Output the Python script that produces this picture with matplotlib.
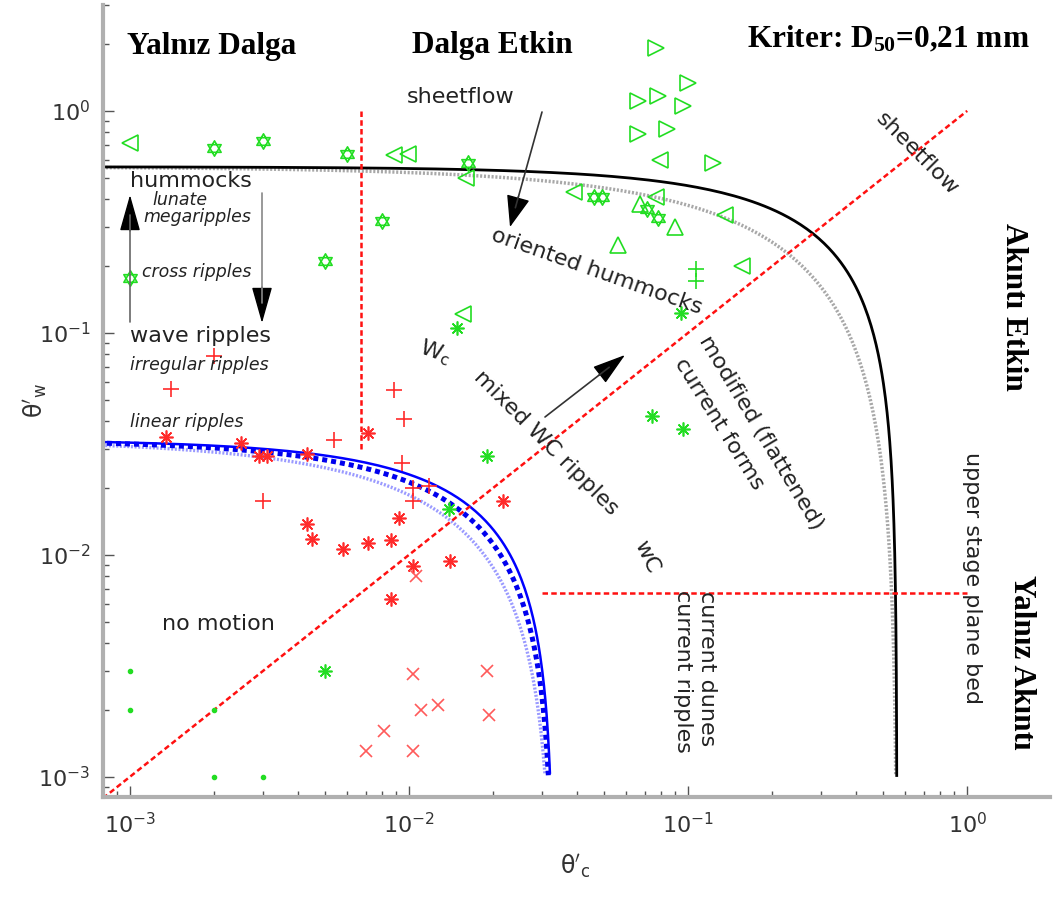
import numpy as np
import matplotlib
matplotlib.use('Agg')
import matplotlib.pyplot as plt
from matplotlib.path import Path

W, H = 1059, 900

# threshold values (Shields parameters)
theta_sheet = 0.56
theta_motion = 0.033
theta_split = 0.0067
theta_split_lo = 0.030

# green symbols
lt_c = [0.001, 0.0088, 0.0099, 0.016, 0.039, 0.079, 0.077, 0.136, 0.156, 0.0156]
lt_w = [0.72, 0.63, 0.64, 0.50, 0.43, 0.60, 0.41, 0.34, 0.20, 0.122]
rt_c = [0.077, 0.10, 0.066, 0.078, 0.096, 0.066, 0.084, 0.123]
rt_w = [1.92, 1.34, 1.11, 1.17, 1.05, 0.79, 0.83, 0.58]
up_c = [0.067, 0.09, 0.056]
up_w = [0.38, 0.30, 0.25]
hex_c = [0.002, 0.003, 0.006, 0.008, 0.005, 0.001, 0.0163, 0.046, 0.049, 0.071, 0.078]
hex_w = [0.68, 0.73, 0.64, 0.32, 0.21, 0.177, 0.58, 0.41, 0.41, 0.36, 0.33]
gast_c = [0.0149, 0.094, 0.074, 0.096, 0.019, 0.0139, 0.005]
gast_w = [0.105, 0.123, 0.042, 0.037, 0.028, 0.016, 0.003]
gplus_c = [0.107, 0.107]
gplus_w = [0.194, 0.171]
gdot_c = [0.001, 0.001, 0.002, 0.002, 0.003]
gdot_w = [0.003, 0.002, 0.002, 0.001, 0.001]

# red symbols
rplus_c = [0.002, 0.0014, 0.003, 0.0054, 0.0088, 0.0096, 0.0094, 0.0103, 0.0118, 0.0103]
rplus_w = [0.079, 0.056, 0.0175, 0.033, 0.055, 0.041, 0.026, 0.020, 0.0205, 0.0175]
rast_c = [0.00135, 0.0025, 0.0029, 0.0031, 0.0043, 0.0071, 0.0043, 0.0045, 0.0058,
          0.0071, 0.0086, 0.0092, 0.0103, 0.0217, 0.014, 0.0086]
rast_w = [0.034, 0.032, 0.028, 0.028, 0.0285, 0.0355, 0.0138, 0.0118, 0.0106,
          0.0113, 0.0116, 0.0147, 0.0089, 0.0175, 0.0094, 0.0063]
rx_c = [0.0106, 0.0103, 0.011, 0.0127, 0.0081, 0.007, 0.0103, 0.019, 0.0194]
rx_w = [0.008, 0.0029, 0.002, 0.0021, 0.0016, 0.0013, 0.0013, 0.003, 0.0019]

GREEN = '#22dd22'
RED = '#ff2a2a'

plt.rcParams['mathtext.rm'] = 'Liberation Serif:bold'
plt.rcParams['mathtext.it'] = 'Liberation Serif:bold'
plt.rcParams['mathtext.bf'] = 'Liberation Serif:bold'


def fp(x, y):
    return (x / W, 1 - y / H)


def threshold(tcr, n):
    # (tc^n + tw^n)^(1/n) = tcr, stops at tw = 1e-3
    s = np.concatenate([np.geomspace(1e-9, 0.5, 400), 1 - np.geomspace(0.5, 1e-9, 400)])
    tc = tcr * s ** (1 / n)
    tw = tcr * (1 - s) ** (1 / n)
    keep = tw >= 1e-3
    return tc[keep], tw[keep]


fig = plt.figure(figsize=(W / 100, H / 100), dpi=100)
ax = fig.add_axes([103 / W, 103 / H, 947 / W, 792 / H])
ax.set_xscale('log')
ax.set_yscale('log')
ax.set_xlim(8.0e-4, 1.98)
ax.set_ylim(8.1e-4, 3.0)

# threshold curves
c, w = threshold(theta_sheet, 0.77)
ax.plot(c, w, color='#a8a8a8', lw=2.5, ls=(0, (0.6, 0.5)))
c, w = threshold(theta_sheet, 1.0)
ax.plot(c, w, color='black', lw=2.0)
c, w = threshold(theta_motion, 0.82)
ax.plot(c, w, color='#9a9aff', lw=2.4, ls=(0, (0.6, 0.5)))
c, w = threshold(theta_motion, 0.92)
ax.plot(c, w, color='#0000ee', lw=3.6, ls=(0, (1, 0.8)))
c, w = threshold(theta_motion, 1.0)
ax.plot(c, w, color='#0000ff', lw=1.8)

# regime boundaries
red_ls = (0, (2.2, 1.3))
ax.plot([8.0e-4, 1.0], [8.0e-4, 1.0], color='#ff1010', lw=1.8, ls=red_ls)
ax.plot([theta_split, theta_split], [theta_split_lo, 1.0], color='#ff1010', lw=1.8, ls=red_ls)
ax.plot([theta_split_lo, 1.0], [theta_split, theta_split], color='#ff1010', lw=1.8, ls=red_ls)

# hexagram marker
a1 = np.deg2rad([90, 210, 330, 90])
a2 = np.deg2rad([270, 30, 150, 270])
verts = list(zip(np.cos(a1), np.sin(a1))) + list(zip(np.cos(a2), np.sin(a2)))
codes = [Path.MOVETO, Path.LINETO, Path.LINETO, Path.CLOSEPOLY] * 2
hexagram = Path(verts, codes)

kw = dict(ls='none', mfc='none', mew=1.2)
ax.plot(lt_c, lt_w, marker='<', ms=11, mec=GREEN, **kw)
ax.plot(rt_c, rt_w, marker='>', ms=11, mec=GREEN, **kw)
ax.plot(up_c, up_w, marker='^', ms=11, mec=GREEN, **kw)
ax.plot(hex_c, hex_w, marker=hexagram, ms=11, mec=GREEN, **kw)
ax.plot(gast_c, gast_w, marker=(8, 2, 0), ms=10, mec=GREEN, **kw)
ax.plot(gplus_c, gplus_w, marker='+', ms=12, mec=GREEN, **kw)
ax.plot(gdot_c, gdot_w, marker='o', ms=3, ls='none', color=GREEN)
ax.plot(rplus_c, rplus_w, marker='+', ms=12, mec=RED, **kw)
ax.plot(rast_c, rast_w, marker=(8, 2, 0), ms=10, mec=RED, **kw)
ax.plot(rx_c, rx_w, marker='x', ms=9, mec='#ff5a5a', **kw)

# axes look
for s in ['top', 'right']:
    ax.spines[s].set_visible(False)
for s in ['left', 'bottom']:
    ax.spines[s].set_color('#b0b0b0')
    ax.spines[s].set_linewidth(3)
ax.tick_params(which='both', direction='in', color='#555555', labelcolor='#333333',
               labelsize=16)
ax.tick_params(which='major', length=8, width=1)
ax.tick_params(which='minor', length=4, width=1)
ax.tick_params(axis='x', pad=11)
ax.tick_params(axis='y', pad=9)

ax.set_xlabel(r"$\mathrm{\theta}'_{\mathrm{c}}$", fontsize=17, color='#333333')
ax.xaxis.set_label_coords(0.498, -0.07)
ax.set_ylabel(r"$\mathrm{\theta}'_{\mathrm{w}}$", fontsize=17, color='#333333')
ax.yaxis.set_label_coords(-0.057, 0.5)

# Turkish headings
serif = dict(family='Liberation Serif', weight='bold', fontsize=22.5, color='black')
fig.text(*fp(127, 54), 'Yalnız Dalga', ha='left', va='baseline', **serif)
fig.text(*fp(412, 53), 'Dalga Etkin', ha='left', va='baseline', **serif)
fig.text(*fp(747, 47), r'Kriter: D$_{50}$=0,21 mm', ha='left', va='baseline',
         math_fontfamily='custom', **serif)
fig.text(*fp(1013, 307), 'Akıntı Etkin', ha='center', va='center', rotation=-90,
         rotation_mode='anchor', **serif)
fig.text(*fp(1022, 662), 'Yalnız Akıntı', ha='center', va='center', rotation=-90,
         rotation_mode='anchor', **serif)

# bedform labels
TXT = '#222222'
big = dict(fontsize=16, color=TXT)
small = dict(fontsize=12.5, color=TXT, style='italic')
for x, y, s in [(407, 103, 'sheetflow'), (130, 187, 'hummocks'),
                (130, 342, 'wave ripples'), (162, 630, 'no motion')]:
    fig.text(*fp(x, y), s, ha='left', va='baseline', **big)
for x, y, s in [(152, 205, 'lunate'), (143, 222, 'megaripples'),
                (142, 277, 'cross ripples'), (130, 370, 'irregular ripples'),
                (130, 427, 'linear ripples')]:
    fig.text(*fp(x, y), s, ha='left', va='baseline', **small)

for x, y, s, r in [(597, 271, 'oriented hummocks', -19.5),
                   (435, 352, r'W$_{\mathregular{c}}$', -20),
                   (546, 443, 'mixed WC ripples', -45),
                   (647, 557, 'wC', -65),
                   (761, 433, 'modified (flattened)', -59),
                   (719, 424, 'current forms', -58),
                   (917, 154, 'sheetflow', -45),
                   (972, 578, 'upper stage plane bed', -90),
                   (707, 669, 'current dunes', -90),
                   (683, 671, 'current ripples', -90)]:
    fig.text(*fp(x, y), s, ha='center', va='center', rotation=r,
             rotation_mode='anchor', **big)


def arrow(tail, tip, lc, hl, hw, lw=1.2):
    tail = np.array(tail, float)
    tip = np.array(tip, float)
    d = (tip - tail) / np.linalg.norm(tip - tail)
    base = tip - d * (hl * 10 * 100 / 72 + 4)
    ax.annotate('', xy=fp(*tip), xytext=fp(*base), xycoords='figure fraction',
                textcoords='figure fraction',
                arrowprops=dict(arrowstyle=f'-|>,head_length={hl},head_width={hw}',
                                color='black', lw=1, shrinkA=0, shrinkB=0,
                                mutation_scale=10))
    ax.annotate('', xy=fp(*(tip - d * 20)), xytext=fp(*tail), xycoords='figure fraction',
                textcoords='figure fraction',
                arrowprops=dict(arrowstyle='-', color=lc, lw=lw, shrinkA=0, shrinkB=0))


arrow((130, 322), (130, 195), '#666666', 2.3, 0.65)
arrow((262, 193), (262, 323), '#888888', 2.3, 0.65)
arrow((542, 112), (510, 227), '#333333', 2.0, 0.75)
arrow((545, 417), (625, 355), '#333333', 2.1, 0.65)

fig.savefig('out.png', dpi=100, facecolor='white')
